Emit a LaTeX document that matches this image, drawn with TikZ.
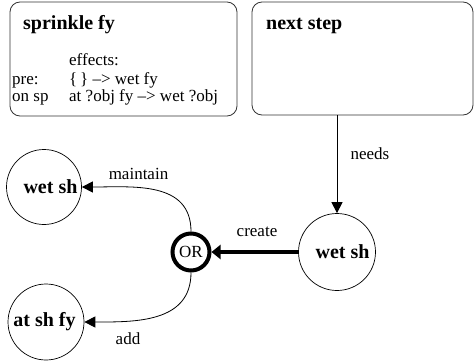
\documentclass[tikz,border=0pt]{standalone}
\usepackage{fontspec}
\setmainfont{Liberation Serif}
\usetikzlibrary{arrows.meta,calc}
\begin{document}
\begin{tikzpicture}[x=1pt,y=1pt,
  panel/.style={draw=black!80,line width=0.8pt,rounded corners=10pt},
  state/.style={draw,circle,line width=0.7pt,minimum size=#1,inner sep=0pt},
  statetext/.style={font=\fontsize{20}{22}\selectfont\bfseries,inner sep=0pt},
  ortext/.style={draw,circle,line width=4pt,minimum size=37pt,inner sep=0pt,font=\fontsize{17}{19}\selectfont},
  body/.style={font=\fontsize{17}{19}\selectfont,inner sep=0pt,anchor=base west},
  title/.style={font=\fontsize{20}{22}\selectfont\bfseries,inner sep=0pt,anchor=base west},
  lbl/.style={font=\fontsize{17}{19}\selectfont,inner sep=0pt},
  link/.style={line width=0.8pt,-{Triangle[length=11pt,width=11pt]}},
  heavy/.style={line width=4pt,-{Triangle[length=9pt,width=14pt]}}]
\useasboundingbox (0,0) rectangle (476,360);

% action panels
\draw[panel] (10,358) rectangle (237,244);
\node[title] (t1) at (23,331) {sprinkle fy};
\node[body] (eff) at (69,295) {effects:};
\node[body] (pre) at (12,276) {pre:};
\node[body] (pre2) at (69,276) {\{\,\} --> wet fy};
\node[body] (on) at (12,259) {on sp};
\node[body] (on2) at (69,259) {at ?obj fy --> wet ?obj};

\node[panel,minimum width=221pt,minimum height=113pt,inner sep=0pt] (next) at (362.5,301.5) {};
\node[title] (t2) at (266,331) {next step};

% goal states
\node[state=77pt] (rws) at (337,108) {};
\node[statetext] (rwst) at (342.5,108) {wet sh};
\node[state=75pt] (lws) at (44,173) {};
\node[statetext] (lwst) at (50.5,173) {wet sh};
\node[state=76pt] (asf) at (46,38) {};
\node[statetext] (asft) at (44.5,38) {at sh fy};
\node[ortext] (or) at (191,108) {OR};

% connectors
\draw[link] (rws.north |- next.south) -- (rws.north);
\node[lbl] (needs) at (370,206) {needs};
\draw[heavy] (rws.west) -- (or.east);
\node[lbl] (create) at (257,128) {create};
\draw[link] (or.north) to[out=90,in=0,looseness=1.1] (lws.east);
\node[lbl] (maint) at (138.5,186) {maintain};
\draw[link] (or.south) to[out=-90,in=0,looseness=1.1] (asf.east);
\node[lbl] (add) at (128,21) {add};
\end{tikzpicture}
\end{document}
